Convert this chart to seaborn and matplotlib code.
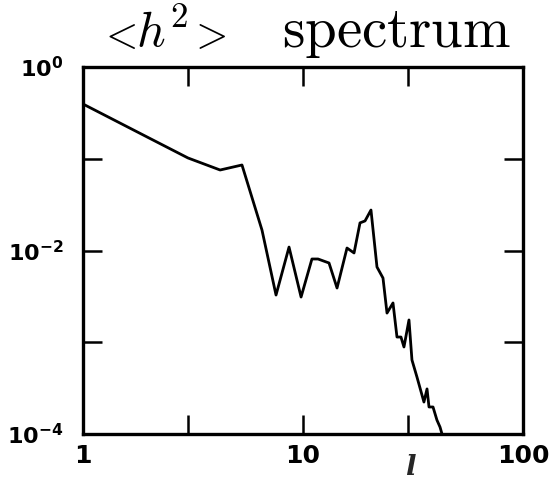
import numpy as np
import pandas as pd
import matplotlib
matplotlib.use("Agg")
import matplotlib.pyplot as plt
from matplotlib.ticker import NullLocator, FixedLocator, FixedFormatter
import seaborn as sns

# data
ell = [1.00, 2.00, 3.00, 4.20, 5.28, 6.51, 7.54, 8.64, 9.80, 10.98, 11.70,
       13.13, 14.28, 15.85, 17.06, 18.16, 19.14, 20.37, 21.69, 23.10, 24.09,
       25.65, 26.74, 27.88, 28.77, 30.32, 31.28, 32.96, 35.46, 36.62, 37.39,
       38.99, 40.62, 41.96, 42.84]
power = [0.395, 0.168, 0.102, 0.0754, 0.0855, 0.0167, 0.00327, 0.0109,
         0.00311, 0.00808, 0.00808, 0.00731, 0.00390, 0.01064, 0.00940,
         0.0200, 0.0210, 0.0276, 0.00661, 0.00501, 0.00208, 0.00268,
         0.00114, 0.00114, 0.000888, 0.00175, 0.000641, 0.000418, 0.000223,
         0.000310, 0.000197, 0.000197, 0.000142, 0.000119, 0.0001]

x_ticks = [1, 3, 10, 30, 100]
x_ticklabels = ["1", "", "10", "", "100"]
y_ticks = [1e-4, 1e-3, 1e-2, 1e-1, 1]
y_ticklabels = [r"$\mathbf{10^{-4}}$", "", r"$\mathbf{10^{-2}}$", "", r"$\mathbf{10^{0}}$"]

sns.set_style("white")
plt.rcParams["font.family"] = ["DejaVu Sans"]
plt.rcParams["mathtext.fontset"] = "dejavusans"

df = pd.DataFrame({"l": ell, "p": power})

fig = plt.figure(figsize=(5.51, 4.87), dpi=100)
ax = fig.add_axes([83 / 551, 1 - 434 / 487, 440 / 551, 367 / 487])

sns.lineplot(data=df, x="l", y="p", ax=ax, sort=False, estimator=None,
             color="black", linewidth=2.0)

ax.set_xscale("log")
ax.set_yscale("log")
ax.set_xlim(1, 100)
ax.set_ylim(1e-4, 1)

ax.xaxis.set_major_locator(FixedLocator(x_ticks))
ax.xaxis.set_major_formatter(FixedFormatter(x_ticklabels))
ax.yaxis.set_major_locator(FixedLocator(y_ticks))
ax.yaxis.set_major_formatter(FixedFormatter(y_ticklabels))
ax.xaxis.set_minor_locator(NullLocator())
ax.yaxis.set_minor_locator(NullLocator())

ax.tick_params(axis="both", which="major", direction="in", length=14, width=1.8,
               top=True, right=True, bottom=True, left=True, colors="black")
ax.tick_params(axis="x", labelsize=18, pad=7)
ax.tick_params(axis="y", labelsize=16, pad=14)
for lab in ax.get_xticklabels():
    lab.set_fontweight("bold")

for s in ax.spines.values():
    s.set_visible(True)
    s.set_linewidth(2.4)
    s.set_color("black")

ax.set_xlabel("l", fontsize=20, fontstyle="italic", fontweight="bold",
              family="DejaVu Serif")
ax.xaxis.set_label_coords(0.743, -0.055)
ax.set_ylabel("")

# title pieces
base_y = 1 - 47 / 487
kw = dict(va="baseline", ha="center", color="black", math_fontfamily="cm")
fig.text(117 / 551, base_y, r"$<$", fontsize=30, **kw)
fig.text(162 / 551, base_y, r"$h^2$", fontsize=36, **kw)
fig.text(207 / 551, base_y, r"$>$", fontsize=30, **kw)
fig.text(397 / 551, base_y, r"$\mathrm{spectrum}$", fontsize=41, **kw)

fig.savefig("out.png", dpi=100, facecolor="white")
